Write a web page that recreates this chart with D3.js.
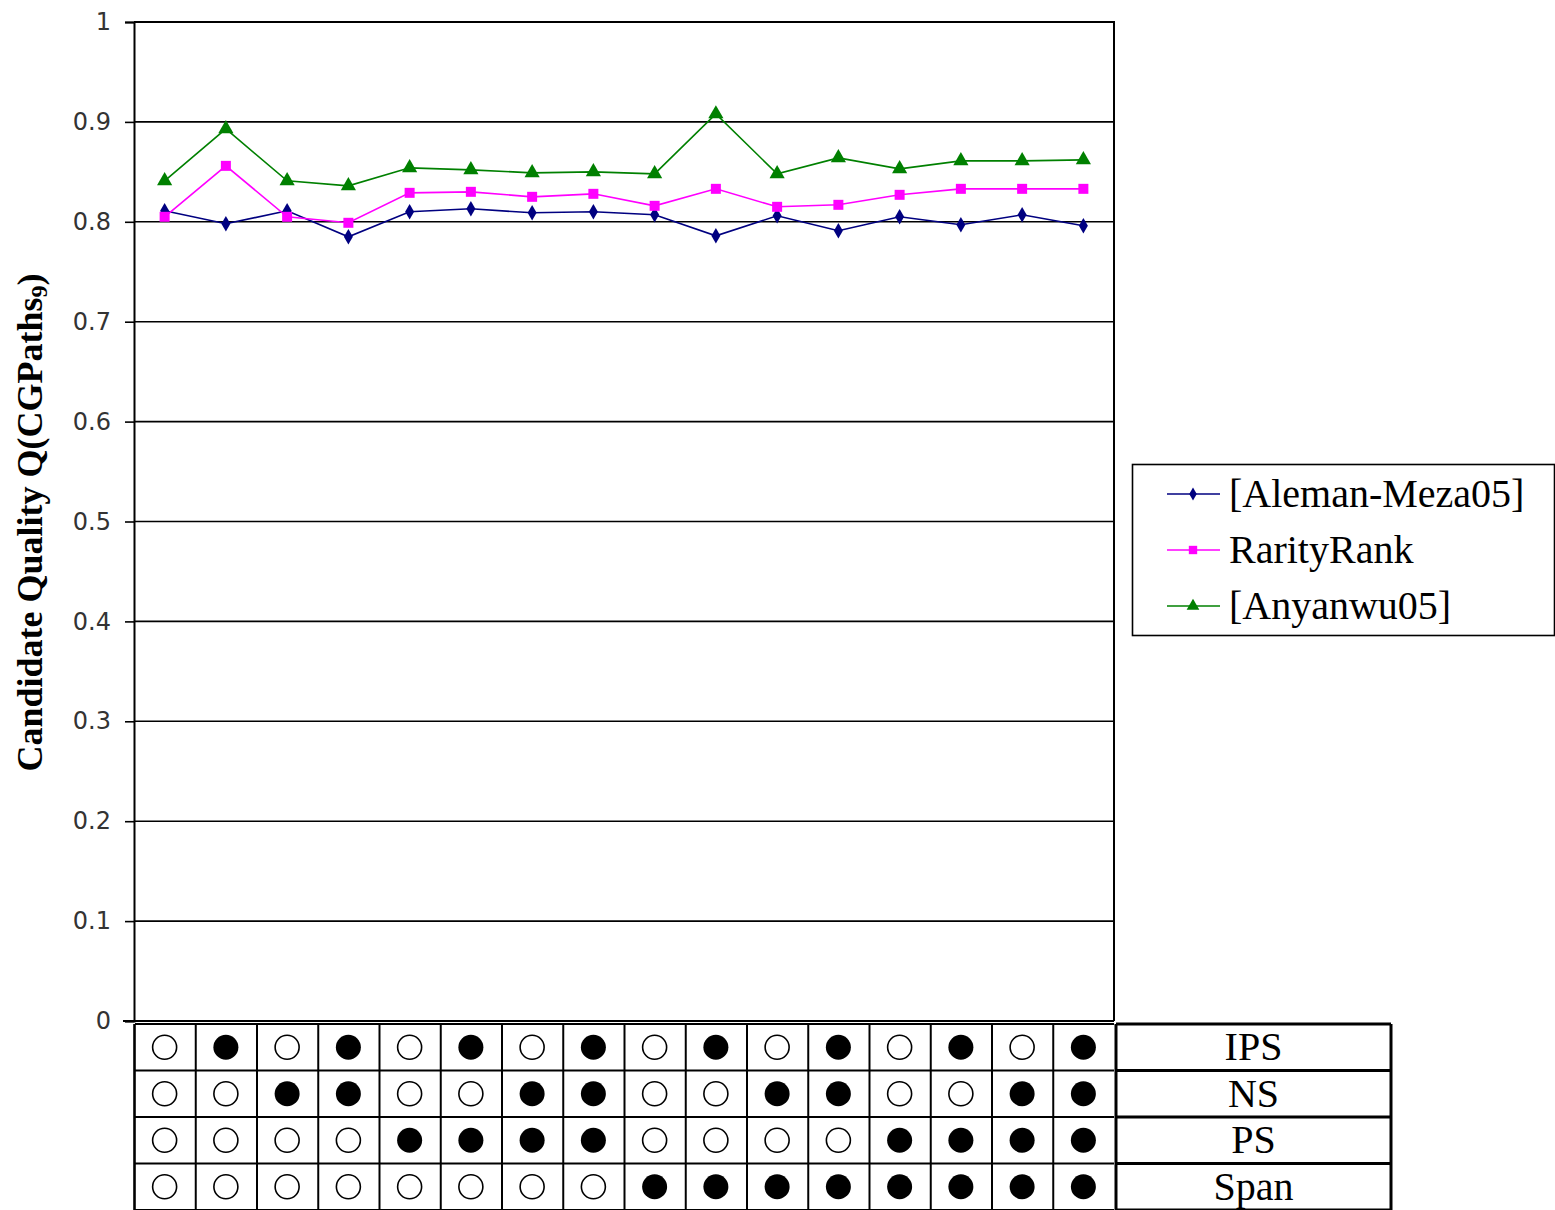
<!DOCTYPE html>
<html>
<head>
<meta charset="utf-8">
<script src="https://cdn.jsdelivr.net/npm/d3@7"></script>
<style>
  html, body { margin: 0; padding: 0; background: #fff; }
  svg { display: block; }
</style>
</head>
<body>
<svg id="chart" width="1555" height="1210"></svg>
<script>
// 16 configurations: each one is a combination of the four switches below
const configs = d3.range(16);
const switchNames = ["IPS", "NS", "PS", "Span"];
// on/off state of each switch per configuration (1 = filled dot)
const ipsOn  = [0,1,0,1,0,1,0,1,0,1,0,1,0,1,0,1];
const nsOn   = [0,0,1,1,0,0,1,1,0,0,1,1,0,0,1,1];
const psOn   = [0,0,0,0,1,1,1,1,0,0,0,0,1,1,1,1];
const spanOn = [0,0,0,0,0,0,0,0,1,1,1,1,1,1,1,1];

const seriesNames = ["[Aleman-Meza05]", "RarityRank", "[Anyanwu05]"];
const alemanMeza = [0.811,0.798,0.811,0.785,0.810,0.813,0.809,0.810,0.807,0.786,0.806,0.791,0.805,0.797,0.807,0.796];
const rarityRank = [0.805,0.856,0.805,0.799,0.829,0.830,0.825,0.828,0.816,0.833,0.815,0.817,0.827,0.833,0.833,0.833];
const anyanwu    = [0.841,0.893,0.841,0.836,0.854,0.852,0.849,0.850,0.848,0.908,0.848,0.864,0.853,0.861,0.861,0.862];

const yTicks = [0,0.1,0.2,0.3,0.4,0.5,0.6,0.7,0.8,0.9,1];
const yTickLabels = ["0","0.1","0.2","0.3","0.4","0.5","0.6","0.7","0.8","0.9","1"];

const series = [
  { name: seriesNames[0], values: alemanMeza, color: "#000080", marker: d3.symbolDiamond, size: 70 },
  { name: seriesNames[1], values: rarityRank, color: "#FF00FF", marker: d3.symbolSquare, size: 100 },
  { name: seriesNames[2], values: anyanwu,    color: "#008000", marker: d3.symbolTriangle, size: 100 }
];

const svg = d3.select("#chart");
const plot = { left: 134, right: 1114, top: 22, bottom: 1021 };

const x = d3.scaleBand().domain(configs).range([plot.left, plot.right]).padding(0);
const y = d3.scaleLinear().domain([0, 1]).range([plot.bottom, plot.top]);

// horizontal gridlines
svg.append("g")
  .selectAll("line")
  .data(yTicks.filter(v => v > 0 && v < 1))
  .join("line")
  .attr("x1", plot.left).attr("x2", plot.right)
  .attr("y1", d => y(d)).attr("y2", d => y(d))
  .attr("stroke", "#000").attr("stroke-width", 1.6);

// plot frame (top and right)
svg.append("path")
  .attr("d", `M${plot.left},${y(1)}H${plot.right}V${plot.bottom}`)
  .attr("fill", "none").attr("stroke", "#000").attr("stroke-width", 2);

// left axis with outward ticks
const yAxis = d3.axisLeft(y)
  .tickValues(yTicks)
  .tickFormat((d, i) => yTickLabels[i])
  .tickSize(9)
  .tickPadding(14);
const gy = svg.append("g").attr("transform", `translate(${plot.left},0)`).call(yAxis);
gy.select(".domain").attr("stroke", "#000").attr("stroke-width", 2);
gy.selectAll(".tick line").attr("stroke", "#000").attr("stroke-width", 1.6);
gy.selectAll(".tick text")
  .attr("font-family", "'DejaVu Sans', sans-serif")
  .attr("font-size", 24)
  .attr("fill", "#333");

// bottom baseline, extending a little past the axis on the left
svg.append("line")
  .attr("x1", plot.left - 11).attr("x2", plot.right)
  .attr("y1", plot.bottom).attr("y2", plot.bottom)
  .attr("stroke", "#000").attr("stroke-width", 2.2);

// y axis title
const title = svg.append("text")
  .attr("transform", `translate(42,${(plot.top + plot.bottom) / 2 + 1}) rotate(-90)`)
  .attr("text-anchor", "middle")
  .attr("font-family", "'Liberation Serif', 'Times New Roman', serif")
  .attr("font-weight", "bold")
  .attr("font-size", 36);
title.append("tspan").text("Candidate Quality Q(CGPaths");
title.append("tspan").attr("font-size", 24).attr("dy", 5).text("9");
title.append("tspan").attr("dy", -5).text(")");

// series lines and markers
const line = d3.line()
  .x((d, i) => x(configs[i]) + x.bandwidth() / 2)
  .y(d => y(d));

series.forEach(s => {
  svg.append("path")
    .datum(s.values)
    .attr("d", line)
    .attr("fill", "none")
    .attr("stroke", s.color)
    .attr("stroke-width", 1.6);
  svg.append("g")
    .selectAll("path")
    .data(s.values)
    .join("path")
    .attr("transform", (d, i) => `translate(${x(configs[i]) + x.bandwidth() / 2},${y(d)})`)
    .attr("d", d3.symbol().type(s.marker).size(s.size))
    .attr("fill", s.color);
});

// legend
const legend = svg.append("g");
legend.append("rect")
  .attr("x", 1132.5).attr("y", 464.5).attr("width", 422).attr("height", 171)
  .attr("fill", "#fff").attr("stroke", "#000").attr("stroke-width", 1.6);
series.forEach((s, i) => {
  const ly = 494 + i * 56;
  const g = legend.append("g");
  g.append("line")
    .attr("x1", 1167).attr("x2", 1220).attr("y1", ly).attr("y2", ly)
    .attr("stroke", s.color).attr("stroke-width", 1.6);
  g.append("path")
    .attr("transform", `translate(1193,${ly})`)
    .attr("d", d3.symbol().type(s.marker).size(s.size * 0.7))
    .attr("fill", s.color);
  g.append("text")
    .attr("x", 1229).attr("y", ly + 13)
    .attr("font-family", "'Liberation Serif', 'Times New Roman', serif")
    .attr("font-size", 40)
    .attr("fill", "#000")
    .text(s.name);
});

// configuration table below the chart
const states = [ipsOn, nsOn, psOn, spanOn];
const rowTop = 1024;
const rowH = 46.5;
const labelLeft = plot.right + 2;
const labelRight = 1391;
const table = svg.append("g");

states.forEach((row, r) => {
  const cy = rowTop + r * rowH + rowH / 2;
  table.selectAll(null)
    .data(row)
    .join("circle")
    .attr("cx", (d, i) => x(configs[i]) + x.bandwidth() / 2)
    .attr("cy", cy)
    .attr("r", d => d ? 12.5 : 12)
    .attr("fill", d => d ? "#000" : "#fff")
    .attr("stroke", "#000")
    .attr("stroke-width", d => d ? 0 : 1.6);
  table.append("text")
    .attr("x", (labelLeft + labelRight) / 2)
    .attr("y", cy + 13)
    .attr("text-anchor", "middle")
    .attr("font-family", "'Liberation Serif', 'Times New Roman', serif")
    .attr("font-size", 40)
    .attr("fill", "#000")
    .text(switchNames[r]);
});

// table grid: rows
d3.range(states.length + 1).forEach(r => {
  const ly = rowTop + r * rowH;
  table.append("line")
    .attr("x1", plot.left + 1).attr("x2", x(configs[configs.length - 1]) + x.bandwidth())
    .attr("y1", ly).attr("y2", ly)
    .attr("stroke", "#000").attr("stroke-width", 2.2);
  table.append("line")
    .attr("x1", labelLeft).attr("x2", labelRight)
    .attr("y1", ly).attr("y2", ly)
    .attr("stroke", "#000").attr("stroke-width", 3);
});
// table grid: columns
configs.forEach(c => {
  table.append("line")
    .attr("x1", x(c) + 0.5).attr("x2", x(c) + 0.5)
    .attr("y1", rowTop).attr("y2", 1210)
    .attr("stroke", "#000").attr("stroke-width", c === 0 ? 2.6 : 2);
});
[labelLeft, labelRight].forEach(lx => {
  table.append("line")
    .attr("x1", lx).attr("x2", lx)
    .attr("y1", rowTop).attr("y2", 1210)
    .attr("stroke", "#000").attr("stroke-width", 3);
});
</script>
</body>
</html>
